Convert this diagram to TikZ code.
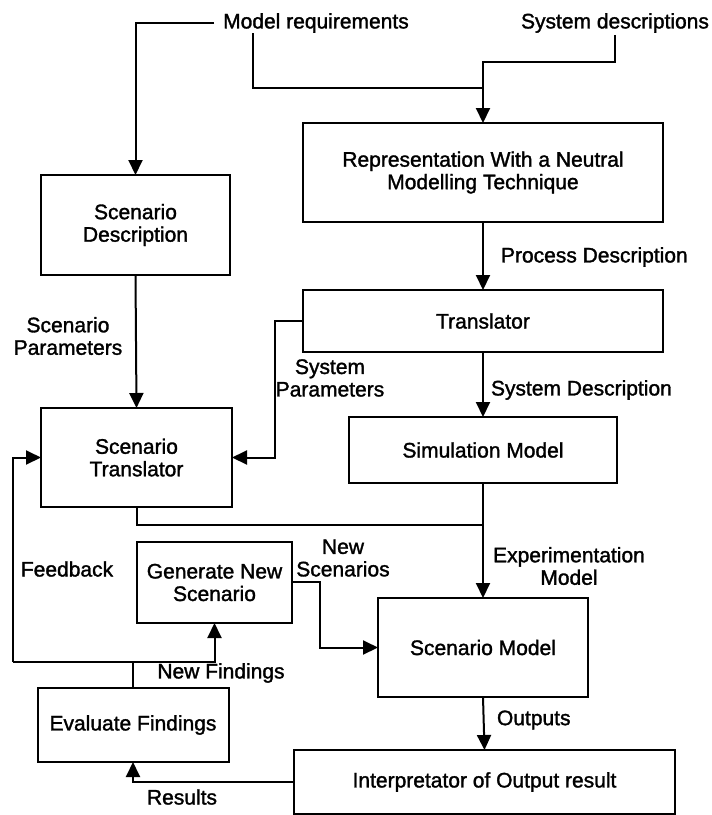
\documentclass[tikz,border=0pt]{standalone}
\usepackage{fontspec}
\setmainfont{Liberation Sans}[FakeBold=1.5]
\usetikzlibrary{arrows.meta}

\begin{document}
\begin{tikzpicture}[x=1pt, y=-1pt,
  >={Triangle[length=15pt,width=14pt]}, %
  inner sep=2pt, outer sep=0pt,%
  font=\fontsize{21}{22.5}\selectfont,
  line/.style={line width=2pt},
  arrow line/.style={line width=2pt,->},
  box node/.style={draw,line width=2pt,align=center,minimum width=#1},
  text node/.style={align=center}]

\useasboundingbox (0,0) rectangle (712,815);

% boxes
\node[box node=189pt,minimum height=100pt] (scdesc) at (135.5,225) {Scenario\\Description};
\node[box node=360pt,minimum height=99pt] (repr) at (483,172.5) {Representation With a Neutral\\Modelling Technique};
\node[box node=360pt,minimum height=62pt] (trans) at (483,321) {Translator};
\node[box node=191pt,minimum height=99pt] (sctrans) at (136.5,457.5) {Scenario\\Translator};
\node[box node=268pt,minimum height=66pt] (simmodel) at (483,450) {Simulation Model};
\node[box node=155pt,minimum height=81pt] (gennew) at (214.5,582.5) {Generate New\\Scenario};
\node[box node=210pt,minimum height=99pt] (scmodel) at (483,647.5) {Scenario Model};
\node[box node=191pt,minimum height=74pt] (evalf) at (133,725) {Evaluate Findings};
\node[box node=381pt,minimum height=64pt] (interp) at (484.5,782) {Interpretator of Output result};

% inputs
\node[text node,outer sep=7pt] (mreq) at (316,23) {Model requirements};
\node[text node] (sdesc) at (615,23) {System descriptions};

\coordinate (ma) at (253,33);
\coordinate (mj) at (483,88);
\coordinate (sj) at (483,62);
\coordinate (sp) at (275,321);
\coordinate (mx) at (137,525);
\coordinate (fb) at (13,662);
\coordinate (ns) at (320,582);

\draw[arrow line] (mreq.west) -| (scdesc.north);
\draw[line] (ma) |- (mj);
\draw[arrow line] (sdesc.south) |- (sj) -- (repr.north);
\draw[arrow line] (repr.south) -- (trans.north);
\draw[arrow line] (scdesc.south) -- (sctrans.north);
\draw[arrow line] (trans.west) -- (sp) |- (sctrans.east);
\draw[arrow line] (trans.south) -- (simmodel.north);
\draw[arrow line] (simmodel.south) -- (scmodel.north);
\draw[line] (sctrans.south) |- (simmodel.south |- mx);
\draw[arrow line] (gennew.east |- ns) -- (ns) |- (scmodel.west);
\draw[arrow line] (scmodel.south) -- (interp.north);
\draw[arrow line] (interp.west) -| (evalf.south);
\draw[line] (evalf.north) -- (evalf.north |- fb);
\draw[arrow line] (fb) -| (gennew.south);
\draw[arrow line] (fb) |- (sctrans.west);

% labels
\node[text node,anchor=west] (lproc) at (499,257) {Process Description};
\node[text node] (lscpar) at (68,336) {Scenario\\Parameters};
\node[text node] (lsyspar) at (330,378) {System\\Parameters};
\node[text node,anchor=west] (lsysdesc) at (489,390) {System Description};
\node[text node] (lfeed) at (67,569) {Feedback};
\node[text node] (lnewsc) at (343,558) {New\\Scenarios};
\node[text node] (lexp) at (569,566) {Experimentation\\Model};
\node[text node] (lnewf) at (221,673) {New Findings};
\node[text node,anchor=west] (lout) at (495,720) {Outputs};
\node[text node] (lres) at (182,797) {Results};

\end{tikzpicture}
\end{document}
